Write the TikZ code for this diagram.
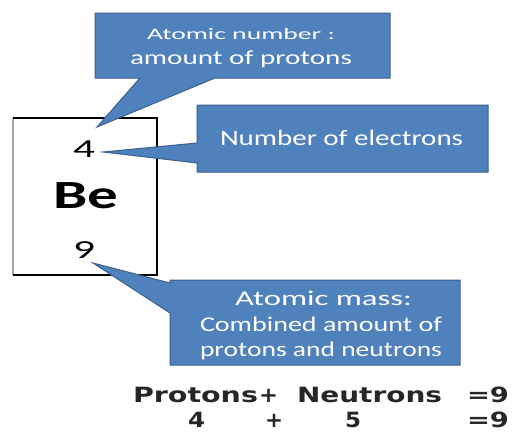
\documentclass[tikz,border=0pt]{standalone}
\usepackage{fontspec}
\setmainfont{Carlito}
\newfontfamily\eqfont{DejaVu Sans}
\usepackage{graphicx}
\newcommand\fitw[2]{\resizebox{#1}{\height}{#2}}
\definecolor{calloutfill}{RGB}{79,129,189}
\definecolor{calloutedge}{RGB}{60,96,140}
\tikzset{
  callout/.style={fill=calloutfill, draw=calloutedge, line width=1pt, line join=miter},
  ctext/.style={text=white, anchor=base west, inner sep=0pt, outer sep=0pt},
  etext/.style={text=black, anchor=base west, inner sep=0pt, outer sep=0pt},
  eqtext/.style={text=black!85, anchor=base west, inner sep=0pt, outer sep=0pt,
    font=\eqfont\bfseries\fontsize{21}{21}\selectfont},
}
\begin{document}
\begin{tikzpicture}[x=1pt,y=-1pt]
\useasboundingbox (0,0) rectangle (513,431);
% element box
\draw[black!35, line width=1.2pt] (13,118) -- (13,275);
\draw[black, line width=1.8pt, line join=miter] (13,118) -- (157,118) -- (157,275) -- (13,275);
\node[etext, font=\fontsize{26}{26}\selectfont] (num) at (73,157) {\fitw{22pt}{4}};
\node[etext, font=\bfseries\fontsize{40}{40}\selectfont] (sym) at (53,208) {\fitw{65pt}{Be}};
\node[etext, font=\fontsize{26}{26}\selectfont] (mass) at (73,258) {\fitw{22pt}{9}};
% callouts
\draw[callout] (95,13) -- (390,13) -- (390,78) -- (215,78) -- (97,127) -- (140,78) -- (95,78) -- cycle;
\draw[callout] (197,105) -- (488,105) -- (488,172) -- (197,172) -- (197,163) -- (103,152) -- (197,143) -- cycle;
\draw[callout] (170,280) -- (460,280) -- (460,365) -- (170,365) -- (170,313) -- (93,263) -- (170,283) -- cycle;
% callout texts
\node[ctext, font=\fontsize{16}{16}\selectfont] (t1) at (147,39) {\fitw{188pt}{Atomic number :}};
\node[ctext, font=\fontsize{20}{20}\selectfont] (t2) at (130,64) {\fitw{222pt}{amount of protons}};
\node[ctext, font=\fontsize{22}{22}\selectfont] (m1) at (220,145) {\fitw{243pt}{Number of electrons}};
\node[ctext, font=\fontsize{21}{21}\selectfont] (b1) at (235,305) {\fitw{177pt}{Atomic mass:}};
\node[ctext, font=\fontsize{21}{21}\selectfont] (b2) at (200,331) {\fitw{242pt}{Combined amount of}};
\node[ctext, font=\fontsize{21}{21}\selectfont] (b3) at (200,356) {\fitw{242pt}{protons and neutrons}};
% equation
\node[eqtext] (e1) at (133,402) {\fitw{125pt}{Protons}};
\node[eqtext] (e2) at (259,402) {\fitw{19pt}{+}};
\node[eqtext] (e3) at (297,402) {\fitw{145pt}{Neutrons}};
\node[eqtext] (e4) at (467,402) {\fitw{42pt}{=9}};
\node[eqtext] (f1) at (188,427) {\fitw{17pt}{4}};
\node[eqtext] (f2) at (265,427) {\fitw{18pt}{+}};
\node[eqtext] (f3) at (345,427) {\fitw{16pt}{5}};
\node[eqtext] (f4) at (467,427) {\fitw{42pt}{=9}};
\end{tikzpicture}
\end{document}
